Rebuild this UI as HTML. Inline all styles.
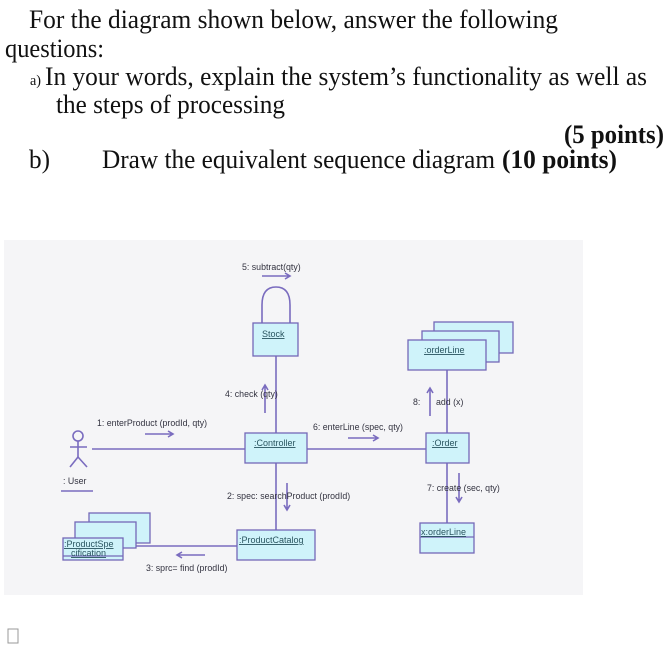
<!DOCTYPE html>
<html><head><meta charset="utf-8"><style>
html,body{margin:0;padding:0;background:#fff;}
svg{display:block}
</style></head><body>
<svg width="669" height="652" viewBox="0 0 669 652" xmlns="http://www.w3.org/2000/svg">
<rect width="669" height="652" fill="#fff"/>
<g font-family="Liberation Serif, serif" font-size="26" fill="#111">
<text x="29" y="28" textLength="529" lengthAdjust="spacingAndGlyphs">For the diagram shown below, answer the following</text>
<text x="5" y="57" textLength="99" lengthAdjust="spacingAndGlyphs">questions:</text>
<text x="30" y="85" font-size="15" textLength="11" lengthAdjust="spacingAndGlyphs">a)</text>
<text x="45" y="85" textLength="602" lengthAdjust="spacingAndGlyphs">In your words, explain the system’s functionality as well as</text>
<text x="56" y="113" textLength="229" lengthAdjust="spacingAndGlyphs">the steps of processing</text>
<text x="564" y="143" font-weight="bold" textLength="100" lengthAdjust="spacingAndGlyphs">(5 points)</text>
<text x="29" y="168" textLength="21" lengthAdjust="spacingAndGlyphs">b)</text>
<text x="102" y="168" textLength="393" lengthAdjust="spacingAndGlyphs">Draw the equivalent sequence diagram</text>
<text x="502" y="168" font-weight="bold" textLength="115" lengthAdjust="spacingAndGlyphs">(10 points)</text>
</g>
<rect x="4" y="240" width="579" height="355" fill="#f5f5f7"/>
<g stroke="#7a6cbf" stroke-width="1.6" fill="none">
<line x1="276" y1="356" x2="276" y2="433"/>
<line x1="276" y1="463" x2="276" y2="530"/>
<line x1="92" y1="449" x2="245" y2="449"/>
<line x1="307" y1="449" x2="426" y2="449"/>
<line x1="447" y1="370" x2="447" y2="433"/>
<line x1="447" y1="463" x2="447" y2="523"/>
<line x1="123" y1="546" x2="237" y2="546"/>
<path d="M262 323 L262 305 Q262 287 276 287 Q290 287 290 305 L290 323"/>
<circle cx="78" cy="436" r="5"/>
<line x1="78" y1="441" x2="78" y2="457"/>
<line x1="70" y1="447" x2="87" y2="447"/>
<line x1="78" y1="457" x2="70" y2="467"/>
<line x1="78" y1="457" x2="87" y2="467"/>
<line x1="61" y1="491" x2="93" y2="491"/>
<path d="M262 276 H290 M285 273 L290 276 L285 279"/>
<path d="M145 434 H173 M168 431 L173 434 L168 437"/>
<path d="M265 413 V385 M262 390 L265 385 L268 390"/>
<path d="M287 483 V510 M284 505 L287 510 L290 505"/>
<path d="M205 555 H177 M182 552 L177 555 L182 558"/>
<path d="M348 438 H378 M373 435 L378 438 L373 441"/>
<path d="M430 416 V388 M427 393 L430 388 L433 393"/>
<path d="M459 473 V502 M456 497 L459 502 L462 497"/>
</g>
<g stroke="#7468b8" stroke-width="1.3" fill="#cff3fa">
<rect x="253" y="323" width="45" height="33"/>
<rect x="245" y="433" width="62" height="30"/>
<rect x="237" y="530" width="78" height="30"/>
<rect x="89" y="513" width="61" height="30"/>
<rect x="75" y="522" width="61" height="26"/>
<rect x="63" y="538" width="60" height="22"/>
<line x1="63" y1="556" x2="123" y2="556"/>
<rect x="434" y="322" width="79" height="31"/>
<rect x="422" y="331" width="77" height="31"/>
<rect x="408" y="340" width="78" height="30"/>
<rect x="426" y="433" width="43" height="30"/>
<rect x="420" y="523" width="54" height="30"/>
<line x1="420" y1="537" x2="474" y2="537"/>
</g>
<g font-family="Liberation Sans, sans-serif" font-size="8.8" fill="#333340">
<text x="242" y="270">5: subtract(qty)</text>
<text x="97" y="426">1: enterProduct (prodId, qty)</text>
<text x="225" y="397">4: check (qty)</text>
<text x="313" y="430">6: enterLine (spec, qty)</text>
<text x="227" y="499">2: spec: searchProduct (prodId)</text>
<text x="146" y="571">3: sprc= find (prodId)</text>
<text x="413" y="405">8:</text>
<text x="436" y="405">add (x)</text>
<text x="427" y="491">7: create (sec, qty)</text>
<text x="63" y="484">: User</text>
</g>
<g font-family="Liberation Sans, sans-serif" font-size="9" fill="#2a5560" text-decoration="underline">
<text x="262" y="337">Stock</text>
<text x="254" y="446">:Controller</text>
<text x="239" y="543">:ProductCatalog</text>
<text x="64" y="547" text-decoration="none">:ProductSpe</text>
<text x="71" y="556" text-decoration="none">cification</text>
<text x="424" y="353">:orderLine</text>
<text x="432" y="446">:Order</text>
<text x="421" y="535">x:orderLine</text>
</g>
<rect x="8" y="629" width="10" height="14" fill="none" stroke="#999" stroke-width="1"/>
</svg>
</body></html>
